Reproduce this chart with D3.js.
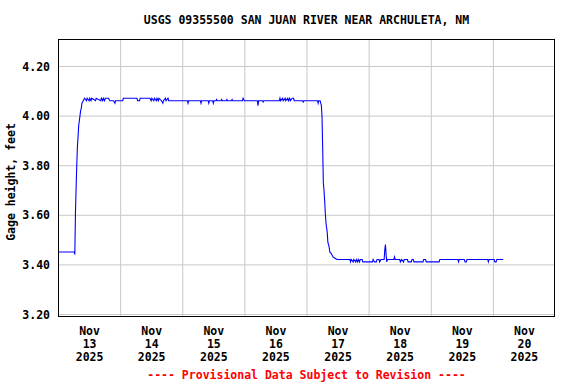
<!DOCTYPE html>
<html>
<head>
<meta charset="utf-8">
<script src="https://cdn.jsdelivr.net/npm/d3@7"></script>
<style>
    body { margin: 0; background: #fff; }
    text { font-family: "DejaVu Sans Mono", monospace; font-weight: bold; font-size: 11.5px; fill: #000; }
</style>
</head>
<body>
<svg id="chart" width="576" height="384"></svg>
<script>
var title = "USGS 09355500 SAN JUAN RIVER NEAR ARCHULETA, NM";
var yLabel = "Gage height, feet";
var footer = "---- Provisional Data Subject to Revision ----";

var yTicks = [3.2, 3.4, 3.6, 3.8, 4.0, 4.2];
var days = ["13", "14", "15", "16", "17", "18", "19", "20"];
var monthLabel = "Nov";
var yearLabel = "2025";

// hours after Nov 13 2025 00:00, and gage height (ft)
var hours = [
    0, 6.25, 6.5, 6.75, 7.0, 7.25, 7.5, 7.75, 8.0, 8.25, 8.5, 8.75, 9.0, 9.25, 9.5, 9.75, 10.0, 10.25,
    11.0, 11.25, 12.0, 12.25, 12.75, 13.0, 14.5, 14.75, 16.5, 16.75, 17.25, 17.5, 18.0, 18.25, 19.5,
    20.0, 21.5, 22.0, 22.25, 25.0, 25.25, 30.5, 30.75, 31.5, 31.75, 35.5, 36.0, 36.25, 37.0, 37.25,
    38.0, 38.25, 38.75, 39.0, 40.0, 40.5, 40.75, 41.5, 41.75, 42.5, 42.75, 50.0, 50.25, 50.5,
    55.0, 55.25, 55.5, 58.0, 58.25, 58.5, 59.75, 60.0, 60.25, 61.0, 61.25, 61.5, 63.0, 63.25, 63.5,
    65.0, 65.25, 65.5, 67.0, 67.25, 67.5, 71.25, 71.5, 71.75, 72.0, 77.0, 77.25, 77.5, 79.0, 79.25, 79.5,
    85.5, 85.75, 86.0, 86.75, 87.0, 87.75, 88.0, 88.75, 89.0, 89.5, 89.75, 90.5, 91.0, 91.25,
    94.5, 94.75, 95.0, 100.25, 100.5, 100.75, 101.25, 101.5, 101.75,
    102.0, 102.25, 102.5, 102.75, 103.0, 103.25, 103.5, 103.75, 104.0, 104.25, 104.5, 104.75, 105.0,
    105.5, 106.25, 107.0, 107.75,
    112.75, 113.0, 113.25, 114.0, 114.25, 115.0, 115.25, 115.75, 116.0, 116.5, 116.75, 117.5, 117.75,
    121.5, 121.75, 122.25, 123.0, 123.25, 124.0, 124.25, 124.75, 126.0, 126.25, 126.5, 126.75, 127.0,
    127.25, 129.75, 130.0, 130.25, 132.0, 132.25, 132.75, 133.5, 133.75, 135.0, 135.25, 136.5, 136.75,
    137.25, 137.5, 141.0, 141.25, 142.0, 142.25, 147.25, 147.5, 154.5, 154.75, 155.0, 157.0, 157.25,
    157.75, 158.0, 166.0, 166.25, 166.5, 168.5, 168.75, 169.25, 169.5, 172.0
];
var gage = [
    3.45, 3.45, 3.44, 3.61, 3.71, 3.80, 3.875, 3.915, 3.96, 3.98, 4.00, 4.02, 4.03, 4.05, 4.055, 4.06, 4.065, 4.07,
    4.06, 4.07, 4.06, 4.07, 4.06, 4.07, 4.06, 4.07, 4.06, 4.07, 4.06, 4.07, 4.06, 4.07, 4.07,
    4.06, 4.06, 4.05, 4.06, 4.06, 4.07, 4.07, 4.06, 4.06, 4.07, 4.07, 4.06, 4.07, 4.06, 4.07,
    4.06, 4.07, 4.06, 4.07, 4.06, 4.05, 4.06, 4.07, 4.06, 4.07, 4.06, 4.06, 4.05, 4.06,
    4.06, 4.05, 4.06, 4.06, 4.05, 4.06, 4.06, 4.05, 4.06, 4.06, 4.065, 4.06, 4.06, 4.065, 4.06,
    4.06, 4.065, 4.06, 4.06, 4.065, 4.06, 4.06, 4.07, 4.065, 4.06, 4.06, 4.04, 4.06, 4.06, 4.055, 4.06,
    4.06, 4.07, 4.06, 4.07, 4.06, 4.07, 4.06, 4.07, 4.06, 4.07, 4.06, 4.07, 4.07, 4.06,
    4.06, 4.055, 4.06, 4.06, 4.05, 4.06, 4.06, 4.05, 4.04,
    3.995, 3.87, 3.73, 3.70, 3.66, 3.61, 3.57, 3.55, 3.53, 3.49, 3.48, 3.47, 3.45,
    3.445, 3.43, 3.425, 3.42,
    3.42, 3.41, 3.42, 3.41, 3.42, 3.41, 3.42, 3.41, 3.42, 3.41, 3.42, 3.42, 3.41,
    3.41, 3.42, 3.41, 3.41, 3.42, 3.42, 3.41, 3.42, 3.42, 3.46, 3.48, 3.44, 3.41,
    3.42, 3.42, 3.43, 3.42, 3.42, 3.41, 3.42, 3.41, 3.42, 3.42, 3.41, 3.41, 3.42,
    3.42, 3.41, 3.41, 3.42, 3.42, 3.41, 3.41, 3.42, 3.42, 3.41, 3.42, 3.42, 3.41,
    3.41, 3.42, 3.42, 3.41, 3.42, 3.42, 3.41, 3.41, 3.42, 3.42
];

var start = new Date(2025, 10, 13);
var end = d3.timeDay.offset(start, 8);

// plot box edges (pixels)
var boxLeft = 58, boxRight = 555, boxTop = 39, boxBottom = 316;

var svg = d3.select('#chart');

var x = d3.scaleTime()
    .domain([start, end])
    .range([boxLeft, boxRight]);

// 3.20 sits a couple of pixels above the frame bottom
var y = d3.scaleLinear()
    .domain([3.2, 4.2])
    .range([314, 66]);

var data = hours.map(function(h, i) {
    return { t: new Date(start.getTime() + h * 3600e3), v: gage[i] };
});

/* grid + y labels */
var yAxis = svg.append('g')
    .attr('transform', 'translate(' + boxLeft + ',0)')
    .call(d3.axisLeft(y)
        .tickValues(yTicks)
        .tickSize(-(boxRight - boxLeft))
        .tickPadding(8)
        .tickFormat(d3.format('.2f')));
yAxis.select('.domain').remove();
yAxis.selectAll('line').attr('stroke', '#c8c8c8');
yAxis.selectAll('text').attr('dy', '0.36em');

var gridDays = d3.timeDay.range(d3.timeDay.offset(start, 1), end);
var xGrid = svg.append('g')
    .attr('transform', 'translate(0,' + boxTop + ')')
    .call(d3.axisBottom(x)
        .tickValues(gridDays)
        .tickSize(boxBottom - boxTop)
        .tickFormat(''));
xGrid.select('.domain').remove();
xGrid.selectAll('line').attr('stroke', '#c8c8c8');

/* x labels at noon of each day */
var noons = days.map(function(d, i) { return d3.timeHour.offset(start, i * 24 + 12); });
var xAxis = svg.append('g')
    .attr('transform', 'translate(0,' + boxBottom + ')')
    .call(d3.axisBottom(x)
        .tickValues(noons)
        .tickSize(0)
        .tickFormat(''));
xAxis.select('.domain').remove();
xAxis.selectAll('.tick text').remove();
xAxis.selectAll('.tick').each(function(d, i) {
    var t = d3.select(this).append('text')
        .attr('text-anchor', 'middle')
        .attr('y', 18.5);
    [monthLabel, days[i], yearLabel].forEach(function(s, k) {
        t.append('tspan').attr('x', 0).attr('dy', k === 0 ? 0 : 13).text(s);
    });
});

/* series */
var line = d3.line()
    .x(function(d) { return x(d.t); })
    .y(function(d) { return y(d.v); });

svg.append('path')
    .datum(data)
    .attr('d', line)
    .attr('fill', 'none')
    .attr('stroke', '#0000ff')
    .attr('stroke-width', 1.1);

/* frame */
svg.append('rect')
    .attr('x', boxLeft + 0.5)
    .attr('y', boxTop + 0.5)
    .attr('width', boxRight - boxLeft - 1)
    .attr('height', boxBottom - boxTop)
    .attr('fill', 'none')
    .attr('stroke', '#000');

/* texts */
svg.append('text')
    .attr('x', (boxLeft + boxRight) / 2)
    .attr('y', 24)
    .attr('text-anchor', 'middle')
    .text(title);

svg.append('text')
    .attr('transform', 'translate(15,182) rotate(-90)')
    .attr('text-anchor', 'middle')
    .text(yLabel);

svg.append('text')
    .attr('x', (boxLeft + boxRight) / 2)
    .attr('y', 379)
    .attr('text-anchor', 'middle')
    .style('fill', '#ff0000')
    .text(footer);
</script>
</body>
</html>
